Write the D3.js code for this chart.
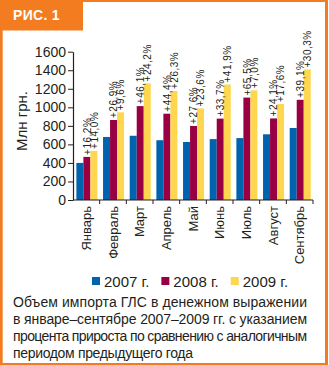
<!DOCTYPE html>
<html>
<head>
<meta charset="utf-8">
<script src="https://cdn.jsdelivr.net/npm/d3@7"></script>
<style>
  html, body { margin: 0; padding: 0; background: #fff; }
  svg { display: block; }
  text { font-family: "Liberation Sans", Arial, sans-serif; fill: #231f20; }
</style>
</head>
<body>
<svg id="chart" width="329" height="365"></svg>
<script>
// Monthly import of medicines, mln UAH
const months = ["Январь", "Февраль", "Март", "Апрель", "Май", "Июнь", "Июль", "Август", "Сентябрь"];
const series = ["2007 г.", "2008 г.", "2009 г."];
const values2007 = [400, 680, 693, 645, 626, 657, 668, 709, 777];
const values2008 = [465, 863, 1013, 931, 799, 878, 1105, 880, 1081];
const values2009 = [530, 946, 1258, 1176, 988, 1246, 1183, 1035, 1408];
// growth vs. same month of previous year
const growth2008 = ["+16,2%", "+26,9%", "+46,1%", "+44,4%", "+27,6%", "+33,7%", "+65,5%", "+24,1%", "+39,1%"];
const growth2009 = ["+14,0%", "+9,6%", "+24,2%", "+26,3%", "+23,6%", "+41,9%", "+7,0%", "+17,6%", "+30,3%"];
const yTicks = [0, 200, 400, 600, 800, 1000, 1200, 1400, 1600];
const captionLines = [
  "Объем импорта ГЛС в денежном выражении",
  "в январе–сентябре 2007–2009 гг. с указанием",
  "процента прироста по сравнению с аналогичным",
  "периодом предыдущего года"
];

const colors = ["#0063ae", "#990044", "#ffd650"];
const orange = "#f47c20";
const valuesBySeries = [values2007, values2008, values2009];
const growthBySeries = [null, growth2008, growth2009];

const svg = d3.select("#chart");

// frame and title tab
svg.append("rect").attr("x", 0).attr("y", 0).attr("width", 329).attr("height", 365).attr("fill", "#fff");
svg.append("rect").attr("x", 0).attr("y", 0).attr("width", 328).attr("height", 2).attr("fill", orange);
svg.append("rect").attr("x", 0).attr("y", 0).attr("width", 2.7).attr("height", 365).attr("fill", orange);
svg.append("rect").attr("x", 325).attr("y", 0).attr("width", 3).attr("height", 365).attr("fill", orange);
svg.append("rect").attr("x", 0).attr("y", 363).attr("width", 328).attr("height", 2).attr("fill", orange);
svg.append("rect").attr("x", 0).attr("y", 0).attr("width", 83).attr("height", 30.5).attr("fill", orange);
svg.append("text").attr("x", 13).attr("y", 19.5)
  .style("fill", "#fff").style("font-weight", "bold").style("font-size", "14px")
  .attr("letter-spacing", "0.3")
  .text("РИС. 1");

const x0 = d3.scaleBand().domain(months).range([73, 313]).paddingInner(0).paddingOuter(0);
const x1 = d3.scaleBand().domain(series).range([0, x0.bandwidth()]).paddingOuter(0.4).align(0.6);
const y = d3.scaleLinear().domain([0, 1600]).range([200, 51.7]);

// y axis
const yAxis = svg.append("g").attr("transform", "translate(73,0)")
  .call(d3.axisLeft(y).tickValues(yTicks).tickSize(5).tickSizeOuter(0).tickPadding(2).tickFormat(d3.format("d")));
yAxis.selectAll("text").style("font-size", "14px").style("font-family", "\"Liberation Sans\", Arial, sans-serif").attr("fill", "#231f20");
yAxis.selectAll("line").attr("stroke", "#231f20");
yAxis.select(".domain").attr("stroke", "#231f20").attr("stroke-width", 1.2);

svg.append("text")
  .attr("transform", "translate(27,121) rotate(-90)")
  .attr("text-anchor", "middle")
  .style("font-size", "15px")
  .text("Млн грн.");

// bars
const groups = svg.append("g").selectAll("g").data(months).join("g")
  .attr("transform", d => `translate(${x0(d)},0)`);

groups.selectAll("rect")
  .data((m, i) => series.map((s, k) => ({ s, k, v: valuesBySeries[k][i] })))
  .join("rect")
  .attr("x", d => x1(d.s))
  .attr("y", d => y(d.v))
  .attr("width", x1.bandwidth())
  .attr("height", d => y(0) - y(d.v))
  .attr("fill", d => colors[d.k]);

// growth labels above 2008 and 2009 bars
groups.selectAll("text.growth")
  .data((m, i) => [1, 2].map(k => ({ s: series[k], v: valuesBySeries[k][i], t: growthBySeries[k][i] })))
  .join("text")
  .attr("class", "growth")
  .attr("transform", d => `translate(${x1(d.s) + x1.bandwidth() / 2},${y(d.v) - 2}) rotate(-90)`)
  .attr("dy", "0.36em")
  .attr("letter-spacing", "0.5")
  .style("font-size", "10px")
  .text(d => d.t);

// x axis line with ticks at category boundaries
const xAxis = svg.append("g");
xAxis.append("line").attr("x1", 73).attr("x2", 313).attr("y1", 200).attr("y2", 200)
  .attr("stroke", "#231f20").attr("stroke-width", 1.2);
xAxis.selectAll("line.tick").data(months.slice(1).concat([null])).join("line")
  .attr("class", "tick")
  .attr("x1", d => d ? x0(d) : x0.range()[1])
  .attr("x2", d => d ? x0(d) : x0.range()[1])
  .attr("y1", 200).attr("y2", 204)
  .attr("stroke", "#231f20");

xAxis.selectAll("text").data(months).join("text")
  .attr("transform", d => `translate(${x0(d) + x0.bandwidth() / 2},206) rotate(-90)`)
  .attr("text-anchor", "end")
  .attr("dy", "0.36em")
  .style("font-size", "13px")
  .text(d => d);

// legend
const legend = svg.append("g");
let lx = 92;
series.forEach((s, k) => {
  legend.append("rect").attr("x", lx).attr("y", 277).attr("width", 8).attr("height", 8).attr("fill", colors[k]);
  const t = legend.append("text").attr("x", lx + 12).attr("y", 286.5).style("font-size", "15px").text(s);
  lx += 12 + t.node().getComputedTextLength() + 12;
});

// caption, justified except the last line
const caption = svg.append("g");
captionLines.forEach((line, i) => {
  const t = caption.append("text")
    .attr("x", 13)
    .attr("y", 307 + i * 17)
    .style("font-size", "14px")
    .text(line);
  t.attr("textLength", i < captionLines.length - 1 ? 294 : 180).attr("lengthAdjust", "spacing");
});
</script>
</body>
</html>
